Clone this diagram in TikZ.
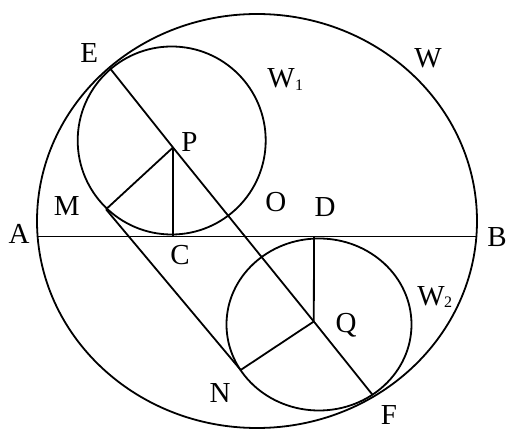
\documentclass[tikz,border=0pt]{standalone}
\usepackage{fontspec}
\setmainfont{Liberation Serif}
\begin{document}
\begin{tikzpicture}[x=1pt,y=-1pt,line width=1.8pt,
  lbl/.style={inner sep=0pt,font=\fontsize{29}{30}\selectfont},
  sub/.style={inner sep=0pt,font=\fontsize{16}{16}\selectfont}]
\useasboundingbox (0,0) rectangle (507,430);
% points
\coordinate (E) at (110,68.3);
\coordinate (F) at (372.7,395);
\coordinate (P) at (173,147.5);
\coordinate (Q) at (313.8,321.5);
\coordinate (M) at (106,209.3);
\coordinate (N) at (240.7,370);
\coordinate (C) at (173,236.5);
\coordinate (D) at (314,236.5);
\coordinate (A) at (37.6,236.5);
\coordinate (B) at (476.4,236.5);
\coordinate (Wc) at (257,221);
\coordinate (W1c) at (171.7,140.5);
\coordinate (W2c) at (319,324.5);
% circles
\draw (Wc) ellipse [x radius=220pt,y radius=207pt];
\draw (W1c) circle [radius=94pt];
\draw (W2c) ellipse [x radius=92.5pt,y radius=86pt];
% segments
\draw (A) -- (B);
\draw (E) -- (P) -- (Q) -- (F);
\draw (P) -- (M);
\draw (P) -- (C);
\draw (M) -- (N);
\draw (N) -- (Q);
\draw (Q) -- (D);
% labels
\node[lbl] (lE) at (89.3,53.3) {E};
\node[lbl] (lP) at (189.5,142) {P};
\node[lbl] (lM) at (66.7,206) {M};
\node[lbl] (lW) at (428,58) {W};
\node[lbl] (lW1) at (281,78) {W};
\node[sub] (lW1s) at (299,85) {1};
\node[lbl] (lO) at (275.8,202) {O};
\node[lbl] (lD) at (325,207) {D};
\node[lbl] (lA) at (19,234) {A};
\node[lbl] (lC) at (180,255) {C};
\node[lbl] (lN) at (220,393) {N};
\node[lbl] (lB) at (497,237) {B};
\node[lbl] (lW2) at (431,296) {W};
\node[sub] (lW2s) at (448,302) {2};
\node[lbl] (lQ) at (346,325) {Q};
\node[lbl] (lF) at (389,415) {F};
\end{tikzpicture}
\end{document}
